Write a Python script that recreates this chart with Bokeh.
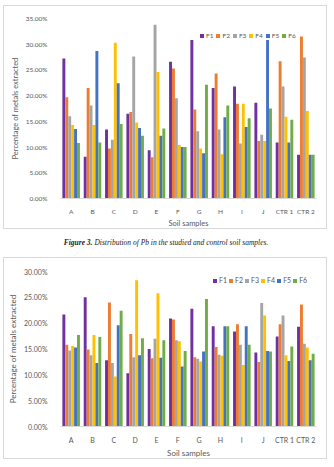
from bokeh.plotting import figure
from bokeh.models import (ColumnDataSource, FactorRange, Range1d, SingleIntervalTicker,
                          PrintfTickFormatter, Legend, LegendItem, Div)
from bokeh.transform import dodge
from bokeh.layouts import column
from bokeh.embed import file_html
from bokeh.resources import INLINE

samples = ["A", "B", "C", "D", "E", "F", "G", "H", "I", "J", "CTR 1", "CTR 2"]
fractions = ["F1", "F2", "F3", "F4", "F5", "F6"]
colors = ["#7030A0", "#ED7D31", "#A5A5A5", "#FFC000", "#4472C4", "#70AD47"]

# Pb, percentage extracted in each fraction
pb_f1 = [27.2, 8.1, 13.4, 16.5, 9.4, 26.6, 30.8, 21.5, 21.8, 18.6, 10.9, 8.5]
pb_f2 = [19.7, 21.5, 9.7, 16.8, 8.0, 25.3, 17.3, 24.3, 18.4, 11.2, 26.7, 31.5]
pb_f3 = [16.0, 18.1, 11.4, 27.6, 33.8, 19.5, 13.1, 13.4, 10.7, 12.4, 21.8, 27.4]
pb_f4 = [14.3, 14.3, 30.3, 14.8, 24.6, 10.4, 9.7, 8.6, 18.4, 11.2, 15.9, 17.0]
pb_f5 = [13.5, 28.7, 22.4, 13.7, 12.2, 10.0, 8.8, 15.8, 13.9, 30.8, 10.9, 8.5]
pb_f6 = [10.8, 10.9, 14.5, 12.2, 13.6, 10.0, 22.1, 18.1, 15.6, 17.5, 15.3, 8.5]

# next metal, percentage extracted in each fraction
m2_f1 = [21.7, 25.0, 12.8, 10.3, 15.0, 20.9, 22.8, 19.4, 18.4, 14.3, 17.4, 19.3]
m2_f2 = [15.8, 14.9, 24.0, 17.9, 13.2, 20.7, 13.4, 15.4, 19.8, 12.5, 19.8, 23.6]
m2_f3 = [14.7, 13.8, 12.3, 13.4, 17.0, 16.7, 13.1, 13.9, 15.8, 23.9, 21.5, 16.0]
m2_f4 = [15.6, 17.7, 9.7, 28.3, 25.8, 16.5, 12.6, 13.7, 11.9, 21.5, 13.8, 15.3]
m2_f5 = [15.3, 12.3, 19.6, 13.8, 13.3, 11.6, 14.5, 19.4, 19.4, 14.6, 12.7, 12.8]
m2_f6 = [17.7, 17.3, 22.4, 17.1, 16.7, 14.6, 24.7, 19.4, 15.8, 14.5, 15.5, 14.1]

FONT = "Lato"
TEXT = "#595959"


def make_chart(series, ymax, width, height, borders, legend_xy, tick_fs, title_fs,
               legend_fs, legend_spacing):
    data = {"sample": samples}
    for name, vals in zip(fractions, series):
        data[name] = vals
    src = ColumnDataSource(data)

    left, right, top, bottom = borders
    p = figure(x_range=FactorRange(factors=samples, range_padding=0),
               y_range=Range1d(0, ymax), width=width, height=height,
               output_backend="svg", toolbar_location=None,
               min_border_left=left, min_border_right=right,
               min_border_top=top, min_border_bottom=bottom)

    bar_w = 0.137
    items = []
    for i, (name, col) in enumerate(zip(fractions, colors)):
        r = p.vbar(x=dodge("sample", (i - 2.5) * bar_w, range=p.x_range), top=name,
                   width=bar_w, source=src, fill_color=col, line_color=None)
        items.append(LegendItem(label=name, renderers=[r]))

    legend = Legend(items=items, location=legend_xy, orientation="horizontal",
                    glyph_width=5, glyph_height=5, label_standoff=2,
                    label_width=0, label_height=0,
                    spacing=legend_spacing, padding=0, margin=0,
                    label_text_font=FONT, label_text_font_size=legend_fs,
                    label_text_color=TEXT, border_line_color=None,
                    background_fill_alpha=0)
    p.add_layout(legend)

    p.yaxis.ticker = SingleIntervalTicker(interval=5)
    p.yaxis.formatter = PrintfTickFormatter(format="%.2f%%")
    p.yaxis.axis_label = "Percentage of metals extracted"
    p.xaxis.axis_label = "Soil samples"

    for ax in (p.xaxis[0], p.yaxis[0]):
        ax.major_tick_line_color = None
        ax.minor_tick_line_color = None
        ax.major_label_text_font = FONT
        ax.major_label_text_font_size = tick_fs
        ax.major_label_text_color = TEXT
        ax.axis_label_text_font = FONT
        ax.axis_label_text_font_size = title_fs
        ax.axis_label_text_font_style = "normal"
        ax.axis_label_text_color = TEXT
    p.xaxis.axis_line_color = "#d9d9d9"
    p.yaxis.axis_line_color = None
    p.xaxis.major_label_standoff = 3
    p.xaxis.axis_label_standoff = 1
    p.yaxis.major_label_standoff = 7
    p.yaxis.axis_label_standoff = 3

    p.xgrid.grid_line_color = None
    p.ygrid.grid_line_color = None
    p.outline_line_color = None
    p.background_fill_color = "white"
    p.border_fill_color = "white"
    p.styles = {"border": "1px solid #d9d9d9"}
    return p


p1 = make_chart([pb_f1, pb_f2, pb_f3, pb_f4, pb_f5, pb_f6], 35, 324, 224,
                (50, 12, 12, 23), (139, 159), "6.5px", "7.5px", "6.5px", 2)
p1.margin = (5, 0, 0, 3)

caption = Div(text="<i><b>Figure 3.</b> Distribution of Pb in the studied and control soil samples.</i>",
              width=326, height=28, margin=(0, 0, 0, 3),
              styles={"font-family": "Liberation Serif", "font-size": "7.5px",
                      "text-align": "center", "line-height": "28px", "color": "#222222"})

p2 = make_chart([m2_f1, m2_f2, m2_f3, m2_f4, m2_f5, m2_f6], 30, 324, 202,
                (52, 8, 13, 24), (152, 142), "7px", "8px", "7px", 1)
p2.margin = (0, 0, 0, 3)

layout = column(p1, caption, p2, spacing=0)

with open("out.html", "w") as fh:
    fh.write(file_html(layout, INLINE))
